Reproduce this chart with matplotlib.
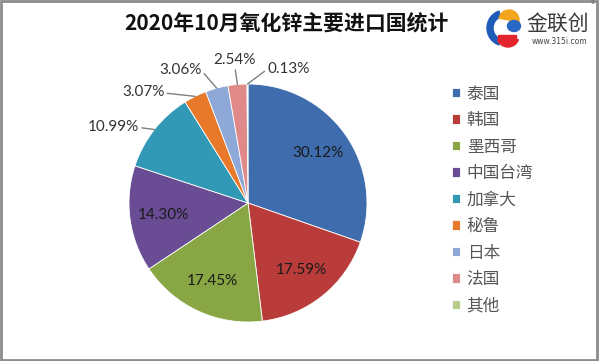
import numpy as np
import matplotlib.pyplot as plt
from matplotlib.patches import Wedge, Rectangle, Ellipse

plt.rcParams['font.family'] = ['Noto Sans CJK SC', 'DejaVu Sans']

countries = ["泰国", "韩国", "墨西哥", "中国台湾", "加拿大", "秘鲁", "日本", "法国", "其他"]
shares = [30.12, 17.59, 17.45, 14.30, 10.99, 3.07, 3.06, 2.54, 0.13]
colors = ["#3E6CAD", "#B93C3A", "#88A744", "#694C94", "#3199B5",
          "#E8782A", "#8EA8D7", "#DF8A89", "#B7CC8C"]
title = "2020年10月氧化锌主要进口国统计"

# label text spots for the small slices (pie radius units), None = inside
outside = [None, None, None, None, (-1.13, 0.64), (-0.88, 0.93),
           (-0.57, 1.12), (-0.11, 1.20), (0.34, 1.13)]

W, H = 599, 361
fig = plt.figure(figsize=(W / 100, H / 100), dpi=100)
fig.patch.set_facecolor("white")

cx, cy, r = 248, 203, 119
ax = fig.add_axes([(cx - r) / W, (H - cy - r) / H, 2 * r / W, 2 * r / H])
wedges, _ = ax.pie(shares, colors=colors, startangle=90, counterclock=False,
                   radius=1, wedgeprops=dict(edgecolor="white", linewidth=0.6))
ax.set_xlim(-1, 1)
ax.set_ylim(-1, 1)
ax.set_aspect("equal")
ax.axis("off")

for w, v, pos in zip(wedges, shares, outside):
    ang = np.deg2rad((w.theta1 + w.theta2) / 2)
    txt = f"{v:.2f}%"
    if pos is None:
        ax.text(0.72 * np.cos(ang), 0.72 * np.sin(ang), txt, ha="center", va="center",
                fontsize=11, family="Lato", color="#1A1A1A")
    else:
        if pos[0] < -0.5:
            rel = (1, 0.45)
        elif pos[0] < 0:
            rel = (0.5, 0)
        else:
            rel = (0, 0.45)
        ax.annotate(txt, xy=(np.cos(ang), np.sin(ang)), xytext=pos,
                    ha="center", va="center", fontsize=11, family="Lato",
                    color="#333333", annotation_clip=False,
                    arrowprops=dict(arrowstyle="-", color="#7F7F7F", lw=1,
                                    relpos=rel, shrinkA=0, shrinkB=0))

fig.legend(wedges, countries, loc="upper left",
           bbox_to_anchor=(445 / W, 1 - 79 / H), frameon=False,
           fontsize=12, labelcolor="#555555", handlelength=0.5, handleheight=0.5,
           handletextpad=0.4, labelspacing=0.57, borderaxespad=0)

fig.text(286 / W, 1 - 24 / H, title, ha="center", va="center",
         fontsize=15, fontweight="bold", color="#111111")

# logo
lg = fig.add_axes([481 / W, 1 - 50 / H, 44 / W, 44 / H])
lg.set_xlim(0, 44)
lg.set_ylim(0, 44)
lg.axis("off")
lg.add_patch(Wedge((24, 22), 18, 110, 250, width=6, color="#1F5BB8"))
lg.add_patch(Wedge((28, 30), 10, -10, 170, color="#F4A51E"))
lg.add_patch(Ellipse((33, 24), 13, 11, color="#2868C4"))
lg.add_patch(Wedge((27, 14), 11, 200, 340, color="#E3262B"))
lg.add_patch(Rectangle((17, 8), 18, 7, color="#E3262B"))
fig.text(558 / W, 1 - 24 / H, "金联创", ha="center", va="center",
         fontsize=15, color="#3A3A3A")
fig.text(559 / W, 1 - 42 / H, "www.315i.com", ha="center", va="center",
         fontsize=5.5, color="#444444", family="DejaVu Sans")
fig.text(593 / W, 1 - 5 / H, "®", ha="center", va="center", fontsize=6, color="#777777")

fig.add_artist(Rectangle((0.002, 0.003), 0.995, 0.994, transform=fig.transFigure,
                         fill=False, edgecolor="#8C8C8C", lw=2))

fig.savefig("out.png", dpi=100)
